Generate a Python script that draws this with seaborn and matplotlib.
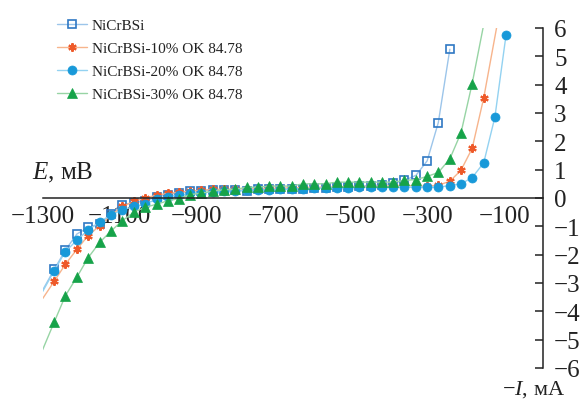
import numpy as np
import pandas as pd
import matplotlib
matplotlib.use("Agg")
import matplotlib.pyplot as plt
from matplotlib.lines import Line2D
import seaborn as sns

# current, mA (common grid of the measurements)
current = [-1270, -1241, -1211, -1182, -1152, -1122, -1093, -1063, -1034, -1004,
           -975, -946, -917, -888, -858, -829, -800, -770, -741, -712,
           -683, -653, -624, -594, -565, -536, -506, -477, -448, -418,
           -389, -360, -330, -301, -272, -242, -213, -184, -154, -125, -96]

# potential, mV
e_base = [-2.52, -1.84, -1.27, -1.04, -0.92, -0.55, -0.23, -0.17, -0.10, 0.03,
          0.12, 0.18, 0.24, 0.26, 0.29, 0.27, 0.28, 0.24, 0.30, 0.30,
          0.31, 0.32, 0.33, 0.35, 0.36, 0.38, 0.40, 0.42, 0.44, 0.46,
          0.52, 0.62, 0.80, 1.31, 2.66, 5.25]
e_10 = [-2.94, -2.34, -1.81, -1.33, -0.98, -0.60, -0.30, -0.12, 0.00, 0.10,
        0.16, 0.20, 0.24, 0.27, 0.30, 0.31, 0.32, 0.32, 0.33, 0.34,
        0.35, 0.36, 0.37, 0.38, 0.38, 0.39, 0.40, 0.40, 0.41, 0.42,
        0.43, 0.45, 0.42, 0.42, 0.45, 0.59, 0.98, 1.75, 3.53]
e_20 = [-2.56, -1.89, -1.49, -1.13, -0.85, -0.60, -0.42, -0.30, -0.21, -0.05,
        0.05, 0.11, 0.16, 0.19, 0.21, 0.24, 0.26, 0.27, 0.28, 0.29,
        0.30, 0.31, 0.33, 0.34, 0.35, 0.36, 0.37, 0.38, 0.38, 0.38,
        0.38, 0.38, 0.38, 0.38, 0.38, 0.44, 0.50, 0.72, 1.24, 2.85, 5.75]
e_30 = [-4.38, -3.45, -2.79, -2.11, -1.57, -1.16, -0.80, -0.50, -0.33, -0.22,
        -0.10, -0.02, 0.12, 0.17, 0.24, 0.29, 0.30, 0.38, 0.38, 0.42,
        0.42, 0.42, 0.50, 0.50, 0.50, 0.56, 0.56, 0.56, 0.56, 0.56,
        0.56, 0.62, 0.65, 0.76, 0.90, 1.38, 2.30, 4.04]

# where the trend lines run out of the plot (no markers there)
tail_left = {"base": (-1300, -3.25), "10": (-1300, -3.55), "20": (-1300, -3.3), "30": (-1300, -5.35)}
tail_right = {"base": None, "10": (-120, 6.05), "20": None, "30": (-155, 6.05)}

labels = ["NiCrBSi", "NiCrBSi-10% OK 84.78", "NiCrBSi-20% OK 84.78", "NiCrBSi-30% OK 84.78"]

sns.set_style("white")
plt.rcParams["font.family"] = ["Liberation Serif", "DejaVu Serif"]
plt.rcParams["mathtext.fontset"] = "custom"
plt.rcParams["mathtext.rm"] = "Liberation Serif"
plt.rcParams["mathtext.it"] = "Liberation Serif:italic"

fig = plt.figure(figsize=(5.87, 4.02), dpi=100)
ax = fig.add_axes([0.0727, 0.0821, 0.8523, 0.8458])

styles = [
    ("base", e_base, "#9cc5ea", dict(marker="s", markerfacecolor="none", markeredgecolor="#2f78c4", markeredgewidth=1.2, markersize=5.5)),
    ("10", e_10, "#f7b48c", dict(marker=(6, 2, 0), markerfacecolor="#ee5a2a", markeredgecolor="#ee5a2a", markeredgewidth=1.5, markersize=6)),
    ("20", e_20, "#93d2f1", dict(marker="o", markerfacecolor="#1899d9", markeredgecolor="#1899d9", markeredgewidth=0.5, markersize=6.5)),
    ("30", e_30, "#97d4a4", dict(marker="^", markerfacecolor="#16a349", markeredgecolor="#16a349", markeredgewidth=0.5, markersize=6.5)),
]

handles = []
for (key, vals, lc, mk), lab in zip(styles, labels):
    xs = list(current[:len(vals)])
    ys = list(vals)
    xs = [tail_left[key][0]] + xs
    ys = [tail_left[key][1]] + ys
    if tail_right[key] is not None:
        xs.append(tail_right[key][0])
        ys.append(tail_right[key][1])
    df = pd.DataFrame({"I": xs, "E": ys})
    sns.lineplot(data=df, x="I", y="E", ax=ax, color=lc, linewidth=1.0, sort=False,
                 markevery=slice(1, 1 + len(vals)), **mk)
    handles.append(Line2D([], [], color=lc, linewidth=1.0, label=lab, **mk))

ax.set_xlim(-1300, 0)
ax.set_ylim(-6, 6)
ax.set_xlabel("")
ax.set_ylabel("")

ax.spines["left"].set_visible(False)
ax.spines["top"].set_visible(False)
ax.spines["bottom"].set_position(("data", 0))
for s in ("bottom", "right"):
    ax.spines[s].set_color("#222222")
    ax.spines[s].set_linewidth(1.1)

ax.yaxis.tick_right()
ax.set_xticks(np.arange(-1300, 0, 200))
ax.set_yticks(np.arange(-6, 7, 1))
ax.tick_params(axis="x", direction="in", length=6, width=1.1, color="#222222",
               labelsize=18, pad=5, labelcolor="#222222")
ax.tick_params(axis="y", direction="in", length=6, width=1.1, color="#222222",
               labelsize=18, pad=8, labelcolor="#222222", left=False, right=True)

fig.text(32 / 587, 1 - 179.5 / 402, "$E$, мВ", fontsize=18, color="#222222", va="baseline")
fig.text(502 / 587, 1 - 395 / 402, "−$I$, мА", fontsize=16, color="#222222", va="baseline")

ax.legend(handles=handles, loc="upper left", bbox_to_anchor=(49 / 587, 1 - 12 / 402),
          bbox_transform=fig.transFigure, frameon=False, fontsize=11,
          handlelength=2.0, handletextpad=0.3, labelspacing=0.6, borderpad=0,
          labelcolor="#222222")

fig.savefig("out.png", dpi=100)
